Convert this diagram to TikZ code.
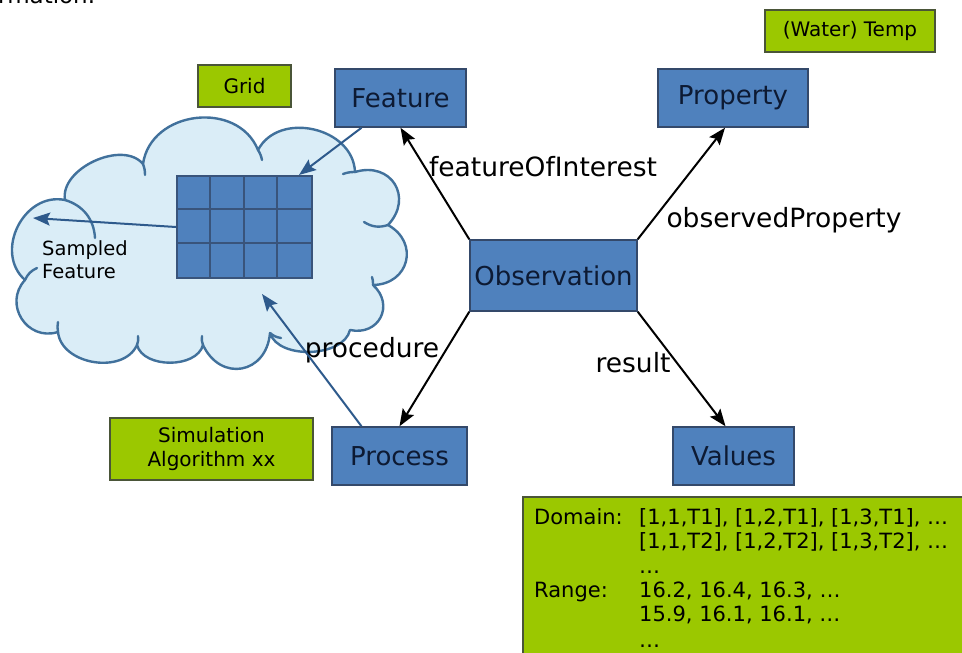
\documentclass[tikz,border=0pt]{standalone}
\usepackage{fontspec}
\setmainfont{DejaVu Sans}
\usetikzlibrary{arrows.meta}
\definecolor{boxblue}{HTML}{4F81BD}
\definecolor{boxedge}{HTML}{34496A}
\definecolor{boxtext}{HTML}{0D1A33}
\definecolor{boxgreen}{HTML}{9BC800}
\definecolor{greenedge}{HTML}{4A5538}
\definecolor{cloudfill}{HTML}{DAEDF7}
\definecolor{cloudedge}{HTML}{41719C}
\definecolor{linkblue}{HTML}{2E5A8C}
\begin{document}
\begin{tikzpicture}[x=1pt,y=-1pt,
  bluebox/.style={draw=boxedge,fill=boxblue,line width=1.5pt,text=boxtext,
    font=\fontsize{26}{30}\selectfont,inner sep=0pt},
  greenbox/.style={draw=greenedge,fill=boxgreen,line width=1.5pt,text=black,
    font=\fontsize{20}{24}\selectfont,inner sep=0pt,align=center},
  rel/.style={line width=2pt,-{Stealth[length=17pt,width=13pt,inset=3pt]}},
  bluerel/.style={draw=linkblue,line width=2pt,-{Stealth[length=17pt,width=13pt,inset=3pt]}},
  lbl/.style={font=\fontsize{26.5}{30}\selectfont,inner sep=0pt},
  gridline/.style={draw=boxedge!80!boxblue,line width=2pt},
  puff/.style={bend left=75,looseness=#1},
  cloudline/.style={draw=cloudedge,line width=2.4pt,line cap=round}
]
\useasboundingbox (0,0) rectangle (962,653);
\clip (0,0) rectangle (962,653);
\fill[white] (0,0) rectangle (962,653);

% cut-off text at the top
\node[anchor=base west,inner sep=0pt,font=\fontsize{23}{28}\selectfont] (topcut) at (-2,4) {rmation.};

% cloud
\coordinate (j1) at (65,200);
\coordinate (j2) at (143,164);
\coordinate (j3) at (258,150);
\coordinate (j4) at (355,172);
\coordinate (j5) at (388,225);
\coordinate (j6) at (373,285);
\coordinate (j7) at (350,330);
\coordinate (j8) at (270,333);
\coordinate (j9) at (203,345);
\coordinate (j10) at (137,345);
\coordinate (j11) at (58,332);
\coordinate (j12) at (25,280);
\path[cloudline,fill=cloudfill,line join=round]
  (j1) to[puff=0.95] (j2) to[puff=1.2] (j3) to[puff=1.15] (j4)
  to[puff=1.55] (j5) to[puff=1.5] (j6) to[puff=1.5] (j7)
  to[puff=0.9] (j8) to[puff=1.55] (j9) to[puff=0.95] (j10)
  to[puff=1.05] (j11) to[puff=1.35] (j12) to[puff=1.2] cycle;
\draw[cloudline] (j1) to[bend left=35] (95,238);
\draw[cloudline] (j2) to[bend left=10] (145,175);
\draw[cloudline] (j3) to[bend left=10] (262,160);
\draw[cloudline] (j4) to[bend right=10] (343,174);
\draw[cloudline] (j5) to[bend left=25] (364,222);
\draw[cloudline] (j6) to[bend right=10] (372,277);
\draw[cloudline] (j8) to[bend right=15] (281,338);
\draw[cloudline] (j9) to[bend left=15] (202,336);
\draw[cloudline] (j10) to[bend right=15] (138,336);
\draw[cloudline] (j11) to[bend left=10] (58,322);
\draw[cloudline] (j12) to[bend left=20] (37,268);

% grid of cells
\node[draw=boxedge!80!boxblue,fill=boxblue,line width=2pt,minimum width=135pt,
  minimum height=102pt,inner sep=0pt] (grid) at (244.5,227) {};
\foreach \i in {1,2,3} \draw[gridline] (grid.north west) ++(\i*33.75,0) -- ++(0,102);
\foreach \j in {1,2} \draw[gridline] (grid.north west) ++(0,\j*34) -- ++(135,0);

\node[anchor=north west,inner sep=0pt,align=left,font=\fontsize{19.5}{23}\selectfont]
  (sampled) at (42,240) {Sampled\\Feature};

% boxes
\node[bluebox,minimum width=131pt,minimum height=58pt] (feat) at (400.5,98) {Feature};
\node[bluebox,minimum width=150pt,minimum height=58pt] (prop) at (733,98) {Property};
\node[bluebox,minimum width=167pt,minimum height=71pt] (obs) at (553.5,275.5) {Observation};
\node[bluebox,minimum width=135pt,minimum height=58pt] (proc) at (399.5,456) {Process};
\node[bluebox,minimum width=121pt,minimum height=58pt] (val) at (733.5,456) {Values};

\node[greenbox,minimum width=93pt,minimum height=42pt] (gridlbl) at (244.5,86) {Grid};
\node[greenbox,minimum width=170pt,minimum height=42pt] (water) at (850,31) {(Water) Temp};
\node[greenbox,minimum width=203pt,minimum height=62pt] (sim) at (211.5,449) {Simulation\\Algorithm xx};

\node[draw=greenedge,fill=boxgreen,line width=1.5pt,anchor=north west,
  minimum width=460pt,minimum height=170pt,inner sep=0pt] (data) at (522,496) {};
\node[anchor=base west,inner sep=0pt,font=\fontsize{21}{24.5}\selectfont] (datatext) at (534,524)
 {\begin{tabular}[t]{@{}l@{}l@{}}
  \makebox[105pt][l]{Domain:} & [1,1,T1], [1,2,T1], [1,3,T1], …\\
          & [1,1,T2], [1,2,T2], [1,3,T2], …\\
          & …\\
  Range:  & 16.2, 16.4, 16.3, …\\[-1pt]
          & 15.9, 16.1, 16.1, …\\[2pt]
          & …
 \end{tabular}};

% black relations
\draw[rel] (obs.north west) -- (feat.south);
\draw[rel] (obs.north east) -- ([xshift=-8pt]prop.south);
\draw[rel] (obs.south west) -- (proc.north);
\draw[rel] (obs.south east) -- ([xshift=-8pt]val.north);

\node[lbl] (foi) at (543,167) {featureOfInterest};
\node[lbl] (op) at (784,220) {observedProperty};
\node[lbl] (pr) at (372,350) {procedure};
\node[lbl] (rs) at (633,363) {result};

% blue links
\coordinate (sfend) at (33,218);
\coordinate (procend) at (262,294);
\draw[bluerel] ([xshift=-39pt]feat.south) -- ([xshift=-14pt]grid.north east);
\draw[bluerel] (grid.west) -- (sfend);
\draw[bluerel] ([xshift=-38pt]proc.north) -- (procend);
\end{tikzpicture}
\end{document}
